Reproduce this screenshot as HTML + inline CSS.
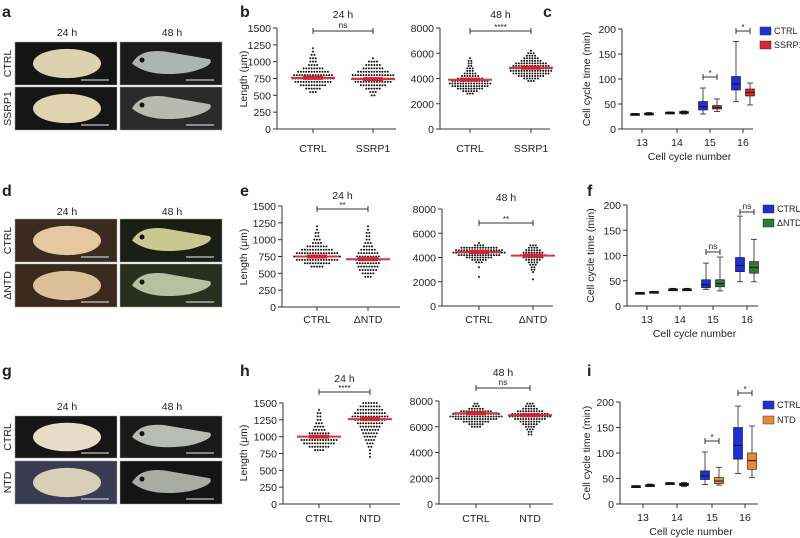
<!DOCTYPE html>
<html><head><meta charset="utf-8"><style>
html,body{margin:0;padding:0;background:#fff}
svg{display:block;font-family:"Liberation Sans",Arial,sans-serif}
svg text{font-family:"Liberation Sans",Arial,sans-serif}
</style></head><body>
<svg id="fig" width="800" height="538" viewBox="0 0 800 538" xmlns="http://www.w3.org/2000/svg"></svg>
<script>
// ---- dot plot data (histogram bins: start, step, counts) ----
const b1Start=[550,500], b1Step=50, b1Ctrl=[3,6,10,14,16,15,12,8,4,3,3,2,1,1], b1Ssrp=[2,3,6,10,14,16,16,12,8,6,4,1], b1Means=[760,740];
const b2Start=[2800,3800], b2Step=200, b2Ctrl=[3,6,10,14,16,14,10,7,5,3,3,2,2,2,1], b2Ssrp=[3,6,10,14,16,16,14,12,8,6,4,3,1], b2Means=[3900,4850];
const e1Start=[600,450], e1Step=50, e1Ctrl=[5,10,16,18,16,12,8,4,3,2,2,1,1], e1Ntd=[3,5,7,8,9,10,9,8,6,4,3,2,2,2,1,1], e1Means=[750,710];
const e2Start=[2400,2200], e2Step=200, e2Ctrl=[1,0,0,0,1,0,3,6,10,16,20,18,14,4,1], e2Ntd=[1,0,0,1,2,2,3,4,6,8,10,8,6,4,3], e2Means=[4450,4150];
const h1Start=[800,700], h1Step=50, h1Ctrl=[4,8,12,14,12,8,5,4,3,2,2,2,1], h1Ntd=[1,1,1,2,3,4,5,6,7,8,10,12,14,12,10,8,6], h1Means=[1000,1260];
const h2Start=[6000,5400], h2Step=200, h2Ctrl=[4,6,10,16,20,18,12,6,3,2], h2Ntd=[2,2,3,4,6,8,12,16,14,10,6,4,3], h2Means=[7050,6900];
// ---- box plot data [min,q1,median,q3,max] per cell cycle 13..16 ----
const cycles=["13","14","15","16"];
const cCtrl=[[29,30,30,31,31],[32,33,33,34,34],[30,38,45,55,82],[55,78,90,105,175]];
const cSsrp=[[28,29,30,32,33],[30,32,33,35,36],[35,40,43,47,60],[48,66,73,80,92]];
const fCtrl=[[25,25,26,27,27],[31,32,33,34,35],[33,36,42,52,85],[48,68,80,96,178]];
const fNtd=[[26,27,28,29,29],[31,32,33,34,35],[30,38,44,52,97],[48,65,76,88,132]];
const iCtrl=[[33,34,35,36,36],[39,40,41,42,42],[38,48,55,65,102],[60,88,115,150,192]];
const iNtd=[[35,36,37,38,39],[34,36,38,41,42],[37,40,45,52,72],[52,68,85,100,153]];

const NS="http://www.w3.org/2000/svg", svg=document.getElementById('fig');
function el(tag,attrs,parent,txt){const e=document.createElementNS(NS,tag);for(const k in attrs)e.setAttribute(k,attrs[k]);if(txt!==undefined)e.textContent=txt;(parent||svg).appendChild(e);return e;}
function grp(name){const g=el('g',{});


return g;}
function txt(g,x,y,s,name,opt){opt=opt||{};const t=el('text',{x:x,y:y,'font-family':'Liberation Sans, Arial, sans-serif','font-size':opt.fs||10.5,'text-anchor':opt.anchor||'middle',fill:'#222','font-weight':opt.bold?'bold':'normal'},g,s);
if(opt.rot)t.setAttribute('transform','rotate(-90 '+x+' '+y+')');


return t;}
function line(g,x1,y1,x2,y2,c,w){return el('line',{x1:x1,y1:y1,x2:x2,y2:y2,stroke:c||'#333','stroke-width':w||1},g);}

function axes(g,c){
  const y=v=>c.yB-(v/c.max)*(c.yB-c.yT);
  line(g,c.x0,c.yT,c.x0,c.yB+0.5);line(g,c.x0,c.yB,c.x1,c.yB);
  c.ticks.forEach(v=>{line(g,c.x0-4,y(v),c.x0,y(v));txt(g,c.x0-6,y(v)+4,String(v),'y-tick-label',{anchor:'end'});});
  c.cats.forEach((cx,i)=>{line(g,cx,c.yB,cx,c.yB+4);txt(g,cx,c.labY,c.labels[i],'x-tick-label',{fs:c.lfs||10.5});});
  return y;
}
function dotPanel(name,c,starts,step,groups,means,title,sig,brY){
  const g=grp(name);const y=axes(g,c);
  groups.forEach((counts,gi)=>{const cx=c.cats[gi];
    counts.forEach((n,k)=>{const v=starts[gi]+k*step;for(let i=0;i<n;i++){
      const d=el('circle',{cx:cx+(i-(n-1)/2)*2.7,cy:y(v),r:1,fill:'#111'},g);
      
      }});
    const m=line(g,cx-22,y(means[gi]),cx+22,y(means[gi]),'#e0303a',2);
    
    
    line(g,cx-10,y(means[gi]),cx+10,y(means[gi]),'#d82030',4);
  });
  txt(g,(c.cats[0]+c.cats[1])/2,c.titleY,title,'panel-title',{fs:10.5});
  line(g,c.cats[0],brY,c.cats[1],brY);line(g,c.cats[0],brY-3,c.cats[0],brY+3);line(g,c.cats[1],brY-3,c.cats[1],brY+3);
  txt(g,(c.cats[0]+c.cats[1])/2,brY-(sig==='ns'?3:1),sig,'significance-label',{fs:sig==='ns'?8.5:8});
}
function boxPanel(name,c,A,B,colB,legB,sigs,leg){
  const g=grp(name);const y=axes(g,c);
  [[A,'#1f2fd6',-7],[B,colB,7]].forEach(([D,col,off])=>{
    D.forEach((d,i)=>{const cx=c.cats[i]+off, w=9;
      line(g,cx,y(d[0]),cx,y(d[4]),'#222',0.8);line(g,cx-3,y(d[0]),cx+3,y(d[0]),'#222',0.8);line(g,cx-3,y(d[4]),cx+3,y(d[4]),'#222',0.8);
      const small=i<2;
      const r=el('rect',{x:cx-w/2,y:y(d[3]),width:w,height:Math.max(2,y(d[1])-y(d[3])),fill:small?'#111':col,stroke:'#111','stroke-width':0.6},g);
      
      
      line(g,cx-w/2,y(d[2]),cx+w/2,y(d[2]),'#111',1);
    });
  });
  sigs.forEach(s=>{const i=s[0],cx=c.cats[i];const by=s[1];
    line(g,cx-7,by,cx+7,by);line(g,cx-7,by-3,cx-7,by+3);line(g,cx+7,by-3,cx+7,by+3);
    txt(g,cx,by-(s[2]==='ns'?3:1),s[2],'significance-label',{fs:s[2]==='ns'?8.5:8});});
  txt(g,c.yTitleX,(c.yT+c.yB)/2,'Cell cycle time (min)','y-axis-title',{rot:true,fs:10.5});
  txt(g,(c.x0+c.x1)/2+2,c.xTitleY,'Cell cycle number','x-axis-title',{fs:10.5});
  [['CTRL','#1f2fd6',leg[1]],[legB,colB,leg[2]]].forEach(([l,col,ly])=>{
    const r=el('rect',{x:leg[0],y:ly-4,width:11,height:8,fill:col,stroke:'#333','stroke-width':0.5},g);
    
    
    txt(g,leg[0]+14,ly+3,l,'legend-entry',{anchor:'start',fs:9});});
}
function photos(name,rows,labels,hy,col24,col48){
  const g=grp(name);
  txt(g,67,hy,'24 h','column-header-24h',{fs:10.5});txt(g,172,hy,'48 h','column-header-48h',{fs:10.5});
  rows.forEach((r,ri)=>{
    [[15,117,col24[ri]],[120,222,col48[ri]]].forEach(([x0,x1,cc],ci)=>{
      const h=r[1]-r[0];
      el('rect',{x:x0,y:r[0],width:x1-x0,height:h,fill:cc[0],stroke:'#999','stroke-width':0.5},g);
      if(ci===0) el('ellipse',{cx:x0+52,cy:r[0]+h*0.5,rx:34,ry:h*0.34,fill:cc[1]},g);
      else {el('path',{d:`M${x0+12} ${r[0]+h*0.5} Q${x0+20} ${r[0]+h*0.15} ${x0+45} ${r[0]+h*0.22} L${x0+90} ${r[0]+h*0.4} Q${x0+95} ${r[0]+h*0.55} ${x0+70} ${r[0]+h*0.7} Q${x0+30} ${r[0]+h*0.85} ${x0+12} ${r[0]+h*0.5}Z`,fill:cc[1]},g);
        el('circle',{cx:x0+22,cy:r[0]+h*0.42,r:2.5,fill:'#111'},g);}
      line(g,x1-36,r[1]-5,x1-8,r[1]-5,'#eee',1);
    });
    txt(g,11,(r[0]+r[1])/2,labels[ri],'row-label',{rot:true,fs:10.5});
  });
}
[['a',2,17],['b',240,17],['c',543,17],['d',2,196],['e',240,196],['f',587,196],['g',2,376],['h',240,376],['i',587,376]].forEach(p=>{
  const t=txt(svg,p[1],p[2],p[0],'panel-letter-'+p[0],{anchor:'start',fs:16,bold:true});});

photos('panel-a-photos',[[42,85],[87,130]],['CTRL','SSRP1'],36,[['#141414','#ddd2b0'],['#151515','#e0d4b0']],[['#1c1c1c','#aeb4b0'],['#2a2a2a','#b8bab0']]);
photos('panel-d-photos',[[219,262],[264,307]],['CTRL','\u0394NTD'],215,[['#3a2a20','#e6c8a0'],['#3a2a1c','#dcc09a']],[['#1a1e14','#c8c890'],['#2a3020','#b8c0a0']]);
photos('panel-g-photos',[[416,458],[461,504]],['CTRL','NTD'],410,[['#161616','#e6dcc8'],['#3a3a50','#d8cfb8']],[['#1a1a1a','#b8bcb4'],['#141414','#a8aca4']]);

txt(svg,247,79,'Length (\u03bcm)','y-axis-title',{rot:true,fs:10.5});
txt(svg,247,257,'Length (\u03bcm)','y-axis-title',{rot:true,fs:10.5});
txt(svg,247,453,'Length (\u03bcm)','y-axis-title',{rot:true,fs:10.5});

const T1500=[0,250,500,750,1000,1250,1500], T8000=[0,2000,4000,6000,8000], T200=[0,50,100,150,200];
dotPanel('panel-b-24h',{x0:277,x1:396,yT:28,yB:129,max:1500,ticks:T1500,cats:[313,373],labels:['CTRL','SSRP1'],labY:152,titleY:18},b1Start,b1Step,[b1Ctrl,b1Ssrp],b1Means,'24 h','ns',31);
dotPanel('panel-b-48h',{x0:440,x1:550,yT:28,yB:129,max:8000,ticks:T8000,cats:[470,531],labels:['CTRL','SSRP1'],labY:152,titleY:18},b2Start,b2Step,[b2Ctrl,b2Ssrp],b2Means,'48 h','****',31);
dotPanel('panel-e-24h',{x0:282,x1:400,yT:206,yB:307,max:1500,ticks:T1500,cats:[317,368],labels:['CTRL','\u0394NTD'],labY:323,titleY:199},e1Start,e1Step,[e1Ctrl,e1Ntd],e1Means,'24 h','**',209);
dotPanel('panel-e-48h',{x0:442,x1:553,yT:209,yB:306,max:8000,ticks:T8000,cats:[479,533],labels:['CTRL','\u0394NTD'],labY:323,titleY:201},e2Start,e2Step,[e2Ctrl,e2Ntd],e2Means,'48 h','**',223);
dotPanel('panel-h-24h',{x0:283,x1:400,yT:403,yB:504,max:1500,ticks:T1500,cats:[319,370],labels:['CTRL','NTD'],labY:522,titleY:382},h1Start,h1Step,[h1Ctrl,h1Ntd],h1Means,'24 h','****',392);
dotPanel('panel-h-48h',{x0:439,x1:553,yT:401,yB:504,max:8000,ticks:T8000,cats:[476,530],labels:['CTRL','NTD'],labY:522,titleY:376},h2Start,h2Step,[h2Ctrl,h2Ntd],h2Means,'48 h','ns',388);

boxPanel('panel-c',{x0:622,x1:753,yT:29,yB:129,max:200,ticks:T200,cats:[642,677,710,743],labels:cycles,labY:146,yTitleX:590,xTitleY:160},cCtrl,cSsrp,'#d8262a','SSRP1',[[2,77,'*'],[3,31,'*']],[760,31,45]);
boxPanel('panel-f',{x0:627,x1:758,yT:205,yB:306,max:200,ticks:T200,cats:[647,680,713,747],labels:cycles,labY:323,yTitleX:594,xTitleY:337},fCtrl,fNtd,'#2e7a3a','\u0394NTD',[[2,252,'ns'],[3,212,'ns']],[763,209,223]);
boxPanel('panel-i',{x0:620,x1:758,yT:402,yB:504,max:200,ticks:T200,cats:[643,677,712,745],labels:cycles,labY:521,yTitleX:590,xTitleY:535},iCtrl,iNtd,'#e88a3a','NTD',[[2,441,'*'],[3,393,'*']],[763,405,420]);
</script>
</body></html>
